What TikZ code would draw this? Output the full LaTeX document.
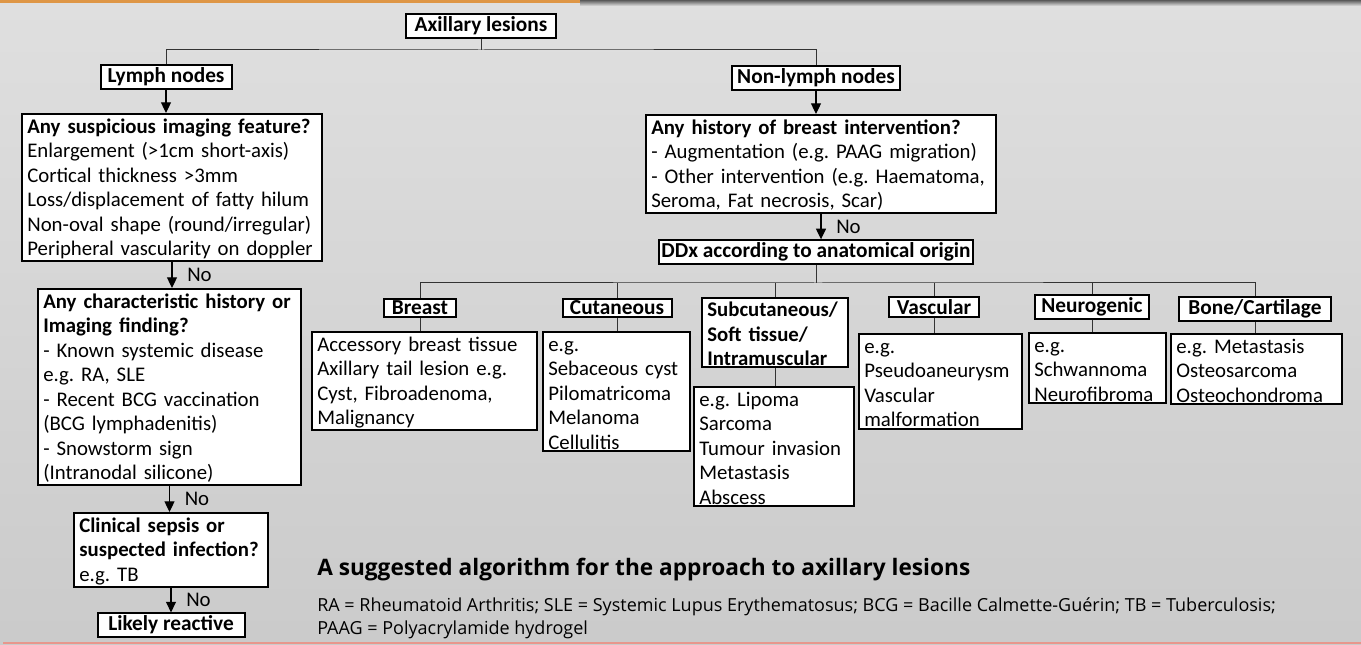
\documentclass[tikz,border=0pt]{standalone}
\usepackage{fontspec}
\setmainfont{Carlito}
\newfontfamily\notefont{Open Sans}
\usetikzlibrary{arrows.meta}
\newcommand{\boxfont}{\fontsize{15.6}{18.4}\selectfont}
\newcommand{\headfont}{\fontsize{16}{18.4}\selectfont\bfseries}
\newcommand{\lw}{1.5pt}
\hyphenpenalty=10000
\frenchspacing
\definecolor{topbar}{RGB}{222,150,70}
\definecolor{botline}{RGB}{232,150,140}

\tikzset{
  box/.style={draw=black, line width=\lw, fill=white, font=\boxfont, align=left,
    anchor=north west, inner xsep=4pt, inner ysep=1.5pt, execute at begin node=\strut},
  head/.style={draw=black, line width=\lw, fill=white, font=\headfont,
    inner xsep=3pt, inner ysep=1.8pt},
  link/.style={draw=black!80, line width=0.75pt},
  arr/.style={draw=black, line width=0.9pt, -{Triangle[width=7.5pt,length=8pt]}},
  nolab/.style={font=\boxfont, right=10pt, inner sep=1pt},
  note/.style={anchor=base west, inner sep=0pt}
}

\begin{document}
\begin{tikzpicture}[x=0.75pt, y=-0.75pt]
    \useasboundingbox (0,0) rectangle (1361,645);
    % background
    \shade[top color=gray!25, bottom color=gray!41] (0,0) rectangle (1361,645);
    \shade[top color=black!65, bottom color=gray!25] (580,0) rectangle (1361,6);
    \fill[topbar] (0,0) rectangle (580,3);
    \fill[botline] (3,642) rectangle (1361,644);

    % top of the tree
    \node[head, minimum width=112.5pt] (axil) at (481,26) {Axillary lesions};
    \node[head, minimum width=98.25pt] (lymph) at (166,77) {Lymph nodes};
    \node[head, minimum width=126pt] (nonlymph) at (816,78) {Non-lymph nodes};
    \coordinate (split) at (481,50);

    % lymph node branch
    \node[box, text width=217pt] (susp) at (21,113)
        {\textbf{Any suspicious imaging feature?}\\
         Enlargement (>1cm short-axis)\\
         Cortical thickness >3mm\\
         Loss/displacement of fatty hilum\\
         Non-oval shape (round/irregular)\\
         Peripheral vascularity on doppler};
    \node[box, text width=189.25pt] (charac) at (37,288)
        {\textbf{Any characteristic history or}\\
         \textbf{Imaging finding?}\\
         - Known systemic disease\\
         e.g. RA, SLE\\
         - Recent BCG vaccination\\
         (BCG lymphadenitis)\\
         - Snowstorm sign\\
         (Intranodal silicone)};
    \node[box, text width=137.5pt] (sepsis) at (73,512)
        {\textbf{Clinical sepsis or}\\
         \textbf{suspected infection?}\\
         e.g. TB};
    \node[head, minimum width=110.25pt] (reactive) at (171,625) {Likely reactive};

    % non-lymph node branch
    \node[box, text width=254.5pt] (hist) at (645,114)
        {\textbf{Any history of breast intervention?}\\
         - Augmentation (e.g. PAAG migration)\\
         - Other intervention (e.g. Haematoma,\\
         Seroma, Fat necrosis, Scar)};
    \node[head, inner xsep=2pt] (ddx) at (816,252) {DDx according to anatomical origin};
    \coordinate (row) at (818,283);

    % anatomical origins
    \node[head, minimum width=54pt] (breast) at (420,308) {Breast};
    \node[head, minimum width=81.75pt] (cutan) at (617,308) {Cutaneous};
    \node[box, font=\boxfont\bfseries, text width=101.5pt, inner ysep=1pt] (subcut) at (701,297)
        {Subcutaneous/\\Soft tissue/\\Intramuscular};
    \node[head, minimum width=67.5pt] (vasc) at (934,307) {Vascular};
    \node[head, minimum width=85.5pt] (neuro) at (1092,307) {Neurogenic};
    \node[head, minimum width=114pt] (bone) at (1255,309) {Bone/Cartilage};

    \node[box, text width=160.75pt] (breastc) at (311,331)
        {Accessory breast tissue\\Axillary tail lesion e.g.\\Cyst, Fibroadenoma,\\Malignancy};
    \node[box, text width=102.25pt] (cutanc) at (542,331)
        {e.g.\\Sebaceous cyst\\Pilomatricoma\\Melanoma\\Cellulitis};
    \node[box, text width=112pt] (subcutc) at (693,386)
        {e.g. Lipoma\\Sarcoma\\Tumour invasion\\Metastasis\\Abscess};
    \node[box, text width=114.25pt] (vascc) at (858,333)
        {e.g.\\Pseudoaneurysm\\Vascular\\malformation};
    \node[box, text width=94.75pt] (neuroc) at (1028,332)
        {e.g.\\Schwannoma\\Neurofibroma};
    \node[box, text width=120.25pt] (bonec) at (1170,333)
        {e.g. Metastasis\\Osteosarcoma\\Osteochondroma};

    % connectors
    \draw[link] (axil.south) -- (split);
    \draw[link] (lymph.north) |- (split) -| (nonlymph.north);
    \draw[arr] (lymph.south) -- (lymph.south |- susp.north);
    \draw[arr] (susp.south) -- node[nolab] {No} (susp.south |- charac.north);
    \draw[arr] (charac.south) -- node[nolab] {No} (charac.south |- sepsis.north);
    \draw[arr] (sepsis.south) -- node[nolab] {No} (sepsis.south |- reactive.north);
    \draw[arr] (nonlymph.south) -- (nonlymph.south |- hist.north);
    \draw[arr] (hist.south) -- node[nolab] {No} (hist.south |- ddx.north);
    \draw[link] (ddx.south) -- (ddx.south |- row);
    \draw[link] (breast.north) |- (row) -| (bone.north);
    \foreach \n in {cutan, subcut, vasc, neuro}
        \draw[link] (\n.north) -- (\n.north |- row);
    \foreach \h/\c in {breast/breastc, cutan/cutanc, subcut/subcutc, vasc/vascc, neuro/neuroc, bone/bonec}
        \draw[link] (\h.south) -- (\h.south |- \c.north);

    % caption
    \node[note, font=\notefont\bfseries\fontsize{17}{20}\selectfont] (title) at (317,575)
        {A suggested algorithm for the approach to axillary lesions};
    \node[note, font=\notefont\fontsize{13.5}{16}\selectfont] (abbr1) at (317,611)
        {RA = Rheumatoid Arthritis; SLE = Systemic Lupus Erythematosus; BCG = Bacille Calmette-Guérin; TB = Tuberculosis;};
    \node[note, font=\notefont\fontsize{13.5}{16}\selectfont] (abbr2) at (317,634)
        {PAAG = Polyacrylamide hydrogel};
\end{tikzpicture}
\end{document}
